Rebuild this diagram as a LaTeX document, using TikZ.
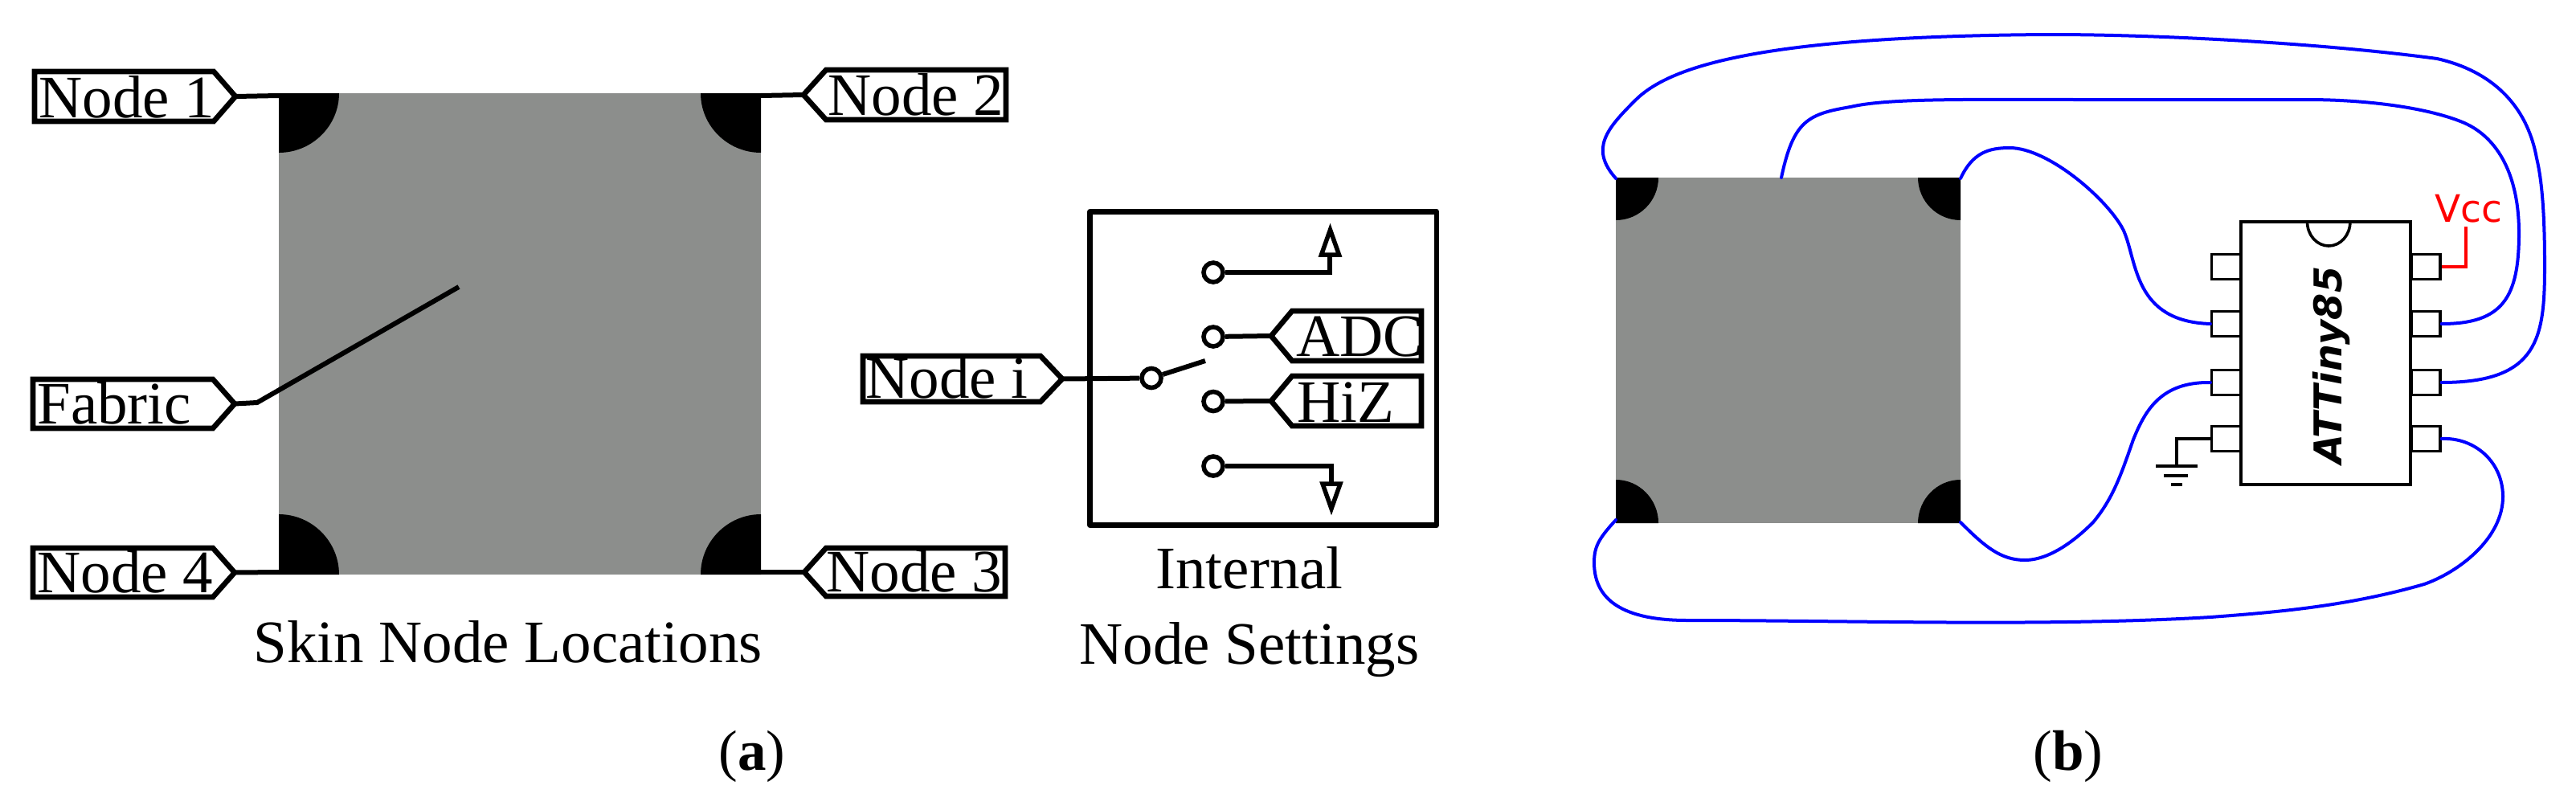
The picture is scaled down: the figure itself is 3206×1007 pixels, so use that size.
\documentclass[tikz,border=0pt]{standalone}
\usepackage{fontspec}
\setmainfont{Liberation Serif}
\newfontfamily\dejavu{DejaVu Sans}
\definecolor{skingray}{HTML}{8C8E8C}
\tikzset{
  lbl/.style={anchor=base west,inner sep=0,font=\fontsize{37.5}{40}\selectfont},
  capt/.style={anchor=base,inner sep=0,align=center,font=\fontsize{37.5}{47}\selectfont},
  subcapt/.style={anchor=base,inner sep=0,font=\fontsize{35.5}{40}\selectfont},
  tagbox/.style={draw=black,fill=white,line width=3.3pt,miter limit=10},
  wirea/.style={draw=black,line width=3pt},
  term/.style={circle,draw=black,fill=white,line width=2.8pt,minimum size=12pt,inner sep=0},
  skin/.style={fill=skingray,anchor=north west,inner sep=0,outer sep=0},
  blue wire/.style={draw=blue,line width=2pt,line cap=round},
  chipline/.style={draw=black,line width=2pt},
  pinbox/.style={draw=black,fill=white,line width=1.6pt,minimum width=18pt,minimum height=15.5pt,inner sep=0,anchor=center},
  openhead/.style={draw=black,fill=white,line width=2.75pt,miter limit=10},
}
\newcommand{\blob}[4]{\fill[black] (#1,#2) -- ++(#3,0) .. controls +(0,{0.55*#4}) and +({0.55*#3},0) .. ++({-#3},#4) -- cycle;}
% name, back edge, shoulder, tip, top, bottom
\newcommand{\tagshape}[6]{\draw[tagbox] (#2,#5) -- (#3,#5) -- (#4,{(#5+#6)/2}) -- (#3,#6) -- (#2,#6) -- cycle; \coordinate (#1) at (#4,{(#5+#6)/2});}
\begin{document}
\begin{tikzpicture}[x=0.5pt,y=-0.5pt]
\useasboundingbox (0,0) rectangle (3206,1007);
\fill[white] (0,0) rectangle (3206,1007);
% ---------- panel a, skin
\node[skin,minimum width=300pt,minimum height=299.5pt] (skinA) at (347,116) {};
\blob{347}{116}{75}{74}
\blob{947}{116}{-75}{74}
\blob{347}{715}{75}{-75}
\blob{947}{715}{-75}{-75}
\coordinate (a1) at (347,119);
\coordinate (a2) at (947,119);
\coordinate (a3) at (947,712);
\coordinate (a4) at (347,712);
\coordinate (fabricEnd) at (571,357);
\coordinate (fabricBend) at (320,501);
\tagshape{t1}{43}{266}{293}{89}{151}
\node[lbl] (n1) at (48,146) {Node 1};
\tagshape{tf}{41}{265}{292}{472}{533}
\node[lbl] (nf) at (46,527) {Fabric};
\tagshape{t4}{41}{265}{292}{682}{743}
\node[lbl] (n4) at (46,737) {Node 4};
\tagshape{t2}{1252}{1028}{1000}{87}{149}
\node[lbl] (n2) at (1030,143) {Node 2};
\tagshape{t3}{1251}{1028}{1001}{682}{742}
\node[lbl] (n3) at (1028,736) {Node 3};
\draw[wirea] (t1) -- (a1);
\draw[wirea] (t2) -- (a2);
\draw[wirea] (t3) -- (a3);
\draw[wirea] (t4) -- (a4);
\draw[wirea] (tf) -- (fabricBend) -- (fabricEnd);
\node[capt] (capSkin) at (632,824) {Skin Node Locations};
\node[subcapt] (capA) at (936,958) {(\textbf{a})};
% ---------- internal settings
\draw[draw=black,line width=3.3pt,line join=round] (1356.5,263.5) rectangle (1788,653.5);
\coordinate (armEnd) at (1500,449);
\coordinate (upCorner) at (1655,339);
\coordinate (downCorner) at (1657,580);
\coordinate (upHead) at (1655,317);
\coordinate (downHead) at (1657,602);
\node[term] (sw) at (1433,470.5) {};
\node[term] (s1) at (1510,339) {};
\node[term] (s2) at (1510,419) {};
\node[term] (s3) at (1510,499.5) {};
\node[term] (s4) at (1510,580) {};
\draw[wirea] (s1) -- (upCorner) -- (upHead);
\draw[wirea] (s4) -- (downCorner) -- (downHead);
\draw[openhead] (1644.5,317) -- (1655.5,286) -- (1666.5,317) -- cycle;
\draw[openhead] (1646,602) -- (1657,633) -- (1668,602) -- cycle;
\draw[wirea] (sw) -- (armEnd);
\tagshape{ti}{1074}{1295}{1322}{443}{500}
\node[lbl] (ni) at (1077,495.5) {Node i};
\draw[wirea] (ti) -- (sw);
\tagshape{tadc}{1769}{1608}{1582}{387}{449}
\node[lbl] (nadc) at (1613,443) {ADC};
\draw[wirea,line width=3.3pt] (1769,385) -- (1769,451);
\tagshape{thiz}{1769}{1608}{1582}{468}{530}
\node[lbl] (nhiz) at (1614,525) {HiZ};
\draw[wirea] (s2) -- (tadc);
\draw[wirea] (s3) -- (thiz);
\node[capt] (capI) at (1555,732) {Internal};
\node[capt] (capN) at (1555,826) {Node Settings};
% ---------- panel b
\node[skin,minimum width=214.5pt,minimum height=215pt] (skinB) at (2011,221) {};
\blob{2011}{221}{53}{53}
\blob{2440}{221}{-53}{53}
\blob{2011}{651}{53}{-54}
\blob{2440}{651}{-53}{-54}
\coordinate (bTL) at (2011,222);
\coordinate (bTM) at (2217,221);
\coordinate (bTR) at (2440,222);
\coordinate (bBL) at (2011,647);
\coordinate (bBR) at (2440,650);
% chip
\draw[chipline,fill=white] (2789,276) rectangle (3000,603);
\draw[chipline,line width=1.8pt] (2871.5,276) arc[start angle=180,end angle=360,x radius=26.7,y radius=-30];
\node[pinbox] (pl1) at (2770.5,332) {};
\node[pinbox] (pl2) at (2770.5,403) {};
\node[pinbox] (pl3) at (2770.5,476) {};
\node[pinbox] (pl4) at (2770.5,546) {};
\node[pinbox] (pr1) at (3019,332) {};
\node[pinbox] (pr2) at (3019,403) {};
\node[pinbox] (pr3) at (3019,476) {};
\node[pinbox] (pr4) at (3019,546) {};
\node[rotate=90,anchor=base west,inner sep=0,font=\dejavu\bfseries\itshape\fontsize{23.8}{26}\selectfont] (chipName) at (2914,578) {ATTiny85};
% Vcc
\node[anchor=base west,inner sep=0,text=red,font=\dejavu\fontsize{23.5}{26}\selectfont] (vcc) at (3030,276) {Vcc};
\coordinate (vccTop) at (3069,282);
\coordinate (vccCorner) at (3069,332);
\draw[draw=red,line width=2pt] (pr1.east) -- (vccCorner) -- (vccTop);
% ground
\coordinate (gndTop) at (2709,580);
\coordinate (gndCorner) at (2709,546);
\draw[chipline] (pl4.west) -- (gndCorner) -- (gndTop);
\draw[draw=black,line width=2.3pt] (2683,580) -- (2735,580);
\draw[draw=black,line width=2.3pt] (2693,592) -- (2723,592);
\draw[draw=black,line width=2.3pt] (2702,603) -- (2716,603);
% wires
\draw[blue wire] (bTL) .. controls (1978,185) and (2000,160) .. (2035,125)
  .. controls (2075,85) and (2180,45) .. (2551,43)
  .. controls (2700,43) and (2900,55) .. (3033,73)
  .. controls (3100,88) and (3145,130) .. (3157,197)
  .. controls (3165,230) and (3167,280) .. (3167,330)
  .. controls (3167,420) and (3160,476) .. (pr3.east);
\draw[blue wire] (bTM) .. controls (2232,150) and (2250,142) .. (2303,133)
  .. controls (2350,122) and (2450,124) .. (2591,124)
  .. controls (2700,124) and (2800,124) .. (2871,124)
  .. controls (2950,124) and (3025,135) .. (3067,153)
  .. controls (3110,172) and (3135,220) .. (3135,290)
  .. controls (3135,370) and (3115,403) .. (pr2.east);
\draw[blue wire] (bTR) .. controls (2455,190) and (2475,184) .. (2501,184)
  .. controls (2550,184) and (2625,250) .. (2643,287)
  .. controls (2660,325) and (2655,400) .. (pl2.west);
\draw[blue wire] (bBR) .. controls (2470,680) and (2490,697) .. (2520,697)
  .. controls (2555,697) and (2590,665) .. (2605,650)
  .. controls (2630,620) and (2640,590) .. (2655,547)
  .. controls (2670,510) and (2690,475) .. (pl3.west);
\draw[blue wire] (bBL) .. controls (1990,670) and (1984,680) .. (1984,700)
  .. controls (1984,740) and (2010,772) .. (2100,772)
  .. controls (2300,772) and (2550,780) .. (2751,768)
  .. controls (2830,762) and (2920,755) .. (3017,727)
  .. controls (3060,712) and (3115,670) .. (3115,618)
  .. controls (3115,575) and (3080,544) .. (pr4.east);
\node[subcapt] (capB) at (2574,958) {(\textbf{b})};
\end{tikzpicture}
\end{document}
